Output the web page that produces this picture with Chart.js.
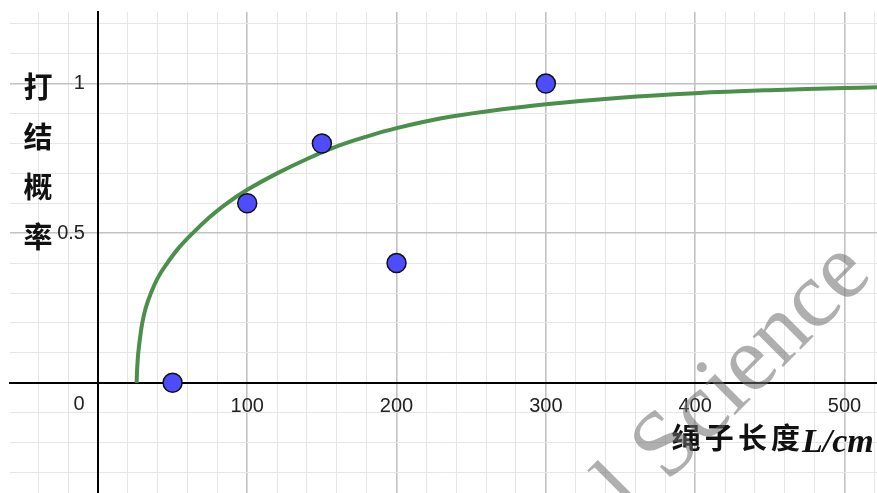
<!DOCTYPE html>
<html>
<head>
<meta charset="utf-8">
<script src="https://cdn.jsdelivr.net/npm/chart.js@4.4.1/dist/chart.umd.min.js"></script>
<style>
  html, body { margin: 0; padding: 0; background: #ffffff; }
  #wrap { width: 877px; height: 493px; }
</style>
</head>
<body>
<div id="wrap"><canvas id="c" width="877" height="493"></canvas></div>
<script>
// Measured knots: rope length (cm) vs. knotting probability
const lengths = [50, 100, 150, 200, 300];
const probabilities = [0, 0.6, 0.8, 0.4, 1];

// Fitted trend curve, sampled along its path
const fitLengths = [25.9, 26.3, 27.0, 28.2, 29.7, 32, 35.5, 40, 46, 54, 64, 74, 85, 100, 120, 140, 160, 180, 200, 230, 260, 300, 350, 400, 450, 500, 522];
const fitProbabilities = [0, 0.05, 0.10, 0.15, 0.20, 0.25, 0.30, 0.35, 0.397, 0.45, 0.503, 0.55, 0.595, 0.645, 0.70, 0.748, 0.79, 0.823, 0.851, 0.884, 0.907, 0.931, 0.953, 0.968, 0.978, 0.985, 0.988];

// Axis tick labels
const xTickLabels = [100, 200, 300, 400, 500];
const yTickLabels = [0.5, 1];

const yTitleChars = ['打', '结', '概', '率'];
const xTitleCjk = ['绳', '子', '长', '度'];
const xTitleUnit = 'L/cm';
const watermark = 'l Science';

const near = (a, b) => Math.abs(a - b) < 1e-6;
const isIn = (v, list) => list.some(t => near(v, t));

const curvePoints = fitLengths.map((x, i) => ({ x, y: fitProbabilities[i] }));
const samplePoints = lengths.map((x, i) => ({ x, y: probabilities[i] }));

const tickFont = '20px "Liberation Sans", Arial, sans-serif';

function gridColor(major) {
  return (ctx) => {
    const v = ctx.tick ? ctx.tick.value : null;
    if (v === null || near(v, 0)) return 'rgba(0,0,0,0)';
    return major(v) ? '#c2c2c2' : '#e6e6e6';
  };
}
function gridWidth(major) {
  return (ctx) => {
    const v = ctx.tick ? ctx.tick.value : 0;
    return major(v) ? 1.6 : 1;
  };
}
const xMajor = v => near(v / 100, Math.round(v / 100));
const yMajor = v => near(v / 0.5, Math.round(v / 0.5));

// axes sit inside the plot, so they must not shrink it
function noPadding(scale) {
  scale.paddingTop = 0;
  scale.paddingBottom = 0;
  scale.paddingLeft = 0;
  scale.paddingRight = 0;
}

const decorations = {
  id: 'decorations',
  afterDraw(chart) {
    const { ctx } = chart;
    const xs = chart.scales.x, ys = chart.scales.y;
    const x0 = xs.getPixelForValue(0), y0 = ys.getPixelForValue(0);
    ctx.save();
    ctx.fillStyle = '#222';
    ctx.font = tickFont;
    ctx.textBaseline = 'middle';

    // origin label
    ctx.textAlign = 'center';
    ctx.fillText('0', x0 - 19, y0 + 22);

    // y tick labels, left of the vertical axis
    ctx.textAlign = 'right';
    ys.ticks.forEach(t => {
      if (isIn(t.value, yTickLabels)) {
        ctx.fillText(String(+t.value.toFixed(1)), x0 - 13, ys.getPixelForValue(t.value));
      }
    });

    // vertical axis title, stacked characters
    ctx.textAlign = 'center';
    ctx.fillStyle = '#111';
    ctx.font = '600 29px "Noto Sans CJK SC", sans-serif';
    yTitleChars.forEach((ch, i) => ctx.fillText(ch, 38, 87 + i * 50));

    // horizontal axis title
    xTitleCjk.forEach((ch, i) => ctx.fillText(ch, 686 + i * 33.2, 438));
    ctx.font = 'italic bold 34px "Liberation Serif", serif';
    ctx.textAlign = 'left';
    ctx.textBaseline = 'alphabetic';
    ctx.fillText(xTitleUnit, 802, 452);

    // watermark
    ctx.translate(632, 518);
    ctx.rotate(-Math.PI / 4);
    ctx.font = '94px "Liberation Serif", serif';
    ctx.fillStyle = 'rgba(110,110,110,0.55)';
    ctx.fillText(watermark, 0, 0);
    ctx.restore();
  }
};

new Chart(document.getElementById('c'), {
  type: 'scatter',
  data: {
    datasets: [
      {
        data: curvePoints,
        showLine: true,
        borderColor: '#4a8f4a',
        borderWidth: 4,
        pointRadius: 0,
        pointHoverRadius: 0,
        tension: 0.4,
        fill: false,
        order: 2
      },
      {
        data: samplePoints,
        showLine: false,
        pointRadius: 9.5,
        pointHoverRadius: 9.5,
        pointBackgroundColor: '#4d4dff',
        pointBorderColor: '#111',
        pointBorderWidth: 1.5,
        order: 1
      }
    ]
  },
  options: {
    responsive: false,
    animation: false,
    events: [],
    layout: { padding: { left: 10, top: 12, right: 0, bottom: 0 }, autoPadding: false },
    plugins: { legend: { display: false }, tooltip: { enabled: false } },
    scales: {
      x: {
        type: 'linear',
        position: { y: 0 },
        min: -58.9,
        max: 521.8,
        afterFit: noPadding,
        grid: { color: gridColor(xMajor), lineWidth: gridWidth(xMajor), drawTicks: false },
        border: { display: true, color: '#000', width: 2 },
        ticks: {
          stepSize: 20,
          includeBounds: false,
          autoSkip: false,
          maxRotation: 0,
          padding: 12,
          color: '#222',
          font: { family: '"Liberation Sans", Arial, sans-serif', size: 20 },
          callback: v => (isIn(v, xTickLabels) ? String(Math.round(v)) : '')
        }
      },
      y: {
        type: 'linear',
        position: { x: 0 },
        min: -0.3683,
        max: 1.2393,
        afterFit: noPadding,
        grid: { color: gridColor(yMajor), lineWidth: gridWidth(yMajor), drawTicks: false },
        border: { display: true, color: '#000', width: 2 },
        ticks: {
          stepSize: 0.1,
          includeBounds: false,
          autoSkip: false,
          display: false
        }
      }
    }
  },
  plugins: [decorations]
});
</script>
</body>
</html>
